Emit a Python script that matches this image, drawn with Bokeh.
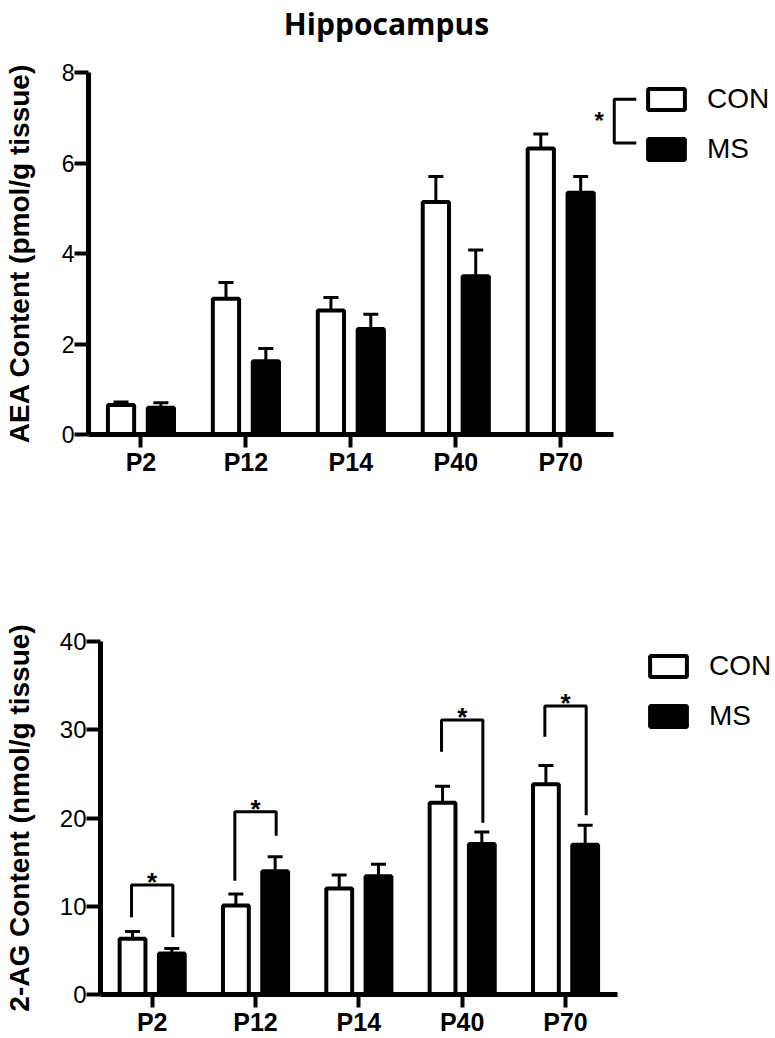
import numpy as np
from bokeh.plotting import figure
from bokeh.models import (Range1d, FixedTicker, Whisker, TeeHead, Legend, LegendItem,
                          ColumnDataSource)
from bokeh.layouts import column
from bokeh.embed import file_html
from bokeh.resources import INLINE
from bokeh.core.properties import value

# ---------------- data ----------------
categories = ["P2", "P12", "P14", "P40", "P70"]

aea_con = [0.65, 3.00, 2.74, 5.14, 6.32]
aea_con_sem = [0.07, 0.36, 0.29, 0.56, 0.32]
aea_ms = [0.59, 1.62, 2.33, 3.50, 5.34]
aea_ms_sem = [0.11, 0.28, 0.33, 0.58, 0.36]
aea_ticks = [0, 2, 4, 6, 8]

ag_con = [6.33, 10.09, 12.01, 21.73, 23.83]
ag_con_sem = [0.82, 1.30, 1.52, 1.86, 2.13]
ag_ms = [4.65, 13.96, 13.40, 17.04, 16.97]
ag_ms_sem = [0.55, 1.64, 1.37, 1.37, 2.20]
ag_ticks = [0, 10, 20, 30, 40]

# significance brackets (2-AG): group, left leg bottom, top, right leg bottom
sig_groups = ["P2", "P12", "P40", "P70"]
sig_left = [8.75, 12.9, 27.5, 29.2]
sig_top = [12.4, 20.7, 31.1, 32.7]
sig_right = [6.5, 18.0, 19.45, 20.3]

# main-effect bracket next to the AEA legend (x in category units, y in data)
main_x = [5.01, 5.22]
main_y = [6.44, 7.41]
main_star = (4.867, 6.95)

TITLE = "Hippocampus"

BAR_OFF = 0.19
BAR_W = 0.25
SIG_OFF = 0.20
FONT = "Liberation Sans"
W = 775


def make_chart(con, con_sem, ms, ms_sem, yticks, ylabel, height, px_cat,
               left, top, bottom, legend_loc, label_standoff, tick_font):
    xend = (W - left) / px_cat
    p = figure(width=W, height=height, output_backend="svg", toolbar_location=None,
               x_range=Range1d(0, xend), y_range=Range1d(yticks[0], yticks[-1]),
               min_border_left=left, min_border_right=0, min_border_top=top,
               min_border_bottom=bottom)
    p.frame_align = False
    p.outline_line_color = None
    p.xgrid.grid_line_color = None
    p.ygrid.grid_line_color = None
    p.background_fill_color = "white"
    p.border_fill_color = "white"

    centers = np.arange(len(categories)) + 0.5
    src = ColumnDataSource(dict(
        xc=centers - BAR_OFF, xm=centers + BAR_OFF,
        con=con, ms=ms,
        con_up=np.array(con) + np.array(con_sem),
        ms_up=np.array(ms) + np.array(ms_sem)))

    for top_col, up_col, xcol in (("con", "con_up", "xc"), ("ms", "ms_up", "xm")):
        w = Whisker(base=xcol, lower=top_col, upper=up_col, source=src,
                    line_width=3, line_color="black", lower_head=None,
                    upper_head=TeeHead(size=15, line_width=3, line_color="black"))
        p.add_layout(w)

    r_con = p.vbar(x="xc", top="con", width=BAR_W, source=src, fill_color="white",
                   line_color="black", line_width=4)
    r_ms = p.vbar(x="xm", top="ms", width=BAR_W, source=src, fill_color="black",
                  line_color="black", line_width=4)

    ax = p.xaxis[0]
    ax.ticker = FixedTicker(ticks=list(centers))
    ax.major_label_overrides = {float(c): cat for c, cat in zip(centers, categories)}
    ax.bounds = (0, len(categories))
    ax.axis_line_width = 5
    ax.major_tick_line_width = 4
    ax.major_tick_out = 13
    ax.major_tick_in = 0
    ax.minor_tick_line_color = None
    ax.major_label_text_font = FONT
    ax.major_label_text_font_style = "bold"
    ax.major_label_text_font_size = "25px"
    ax.major_label_text_color = "black"
    ax.major_label_standoff = 0

    ay = p.yaxis[0]
    ay.ticker = FixedTicker(ticks=yticks)
    ay.axis_line_width = 5
    ay.major_tick_line_width = 4
    ay.major_tick_out = 14
    ay.major_tick_in = 0
    ay.minor_tick_line_color = None
    ay.major_label_text_font = FONT
    ay.major_label_text_font_size = tick_font
    ay.major_label_text_color = "black"
    ay.major_label_standoff = 0
    ay.axis_label = ylabel
    ay.axis_label_text_font = FONT
    ay.axis_label_text_font_style = "bold"
    ay.axis_label_text_font_size = "28px"
    ay.axis_label_text_color = "black"
    ay.axis_label_standoff = label_standoff

    legend = Legend(items=[LegendItem(label="CON", renderers=[r_con]),
                           LegendItem(label="MS", renderers=[r_ms])],
                    location=legend_loc, orientation="vertical",
                    glyph_width=46, glyph_height=26, label_standoff=18,
                    label_text_font=FONT, label_text_font_size="28px",
                    label_text_color="black", spacing=18, padding=0,
                    margin=0, border_line_color=None,
                    background_fill_alpha=0)
    p.add_layout(legend)
    return p, centers


# ---------------- title strip ----------------
TH = 60
tfig = figure(width=W, height=TH, output_backend="svg", toolbar_location=None,
              x_range=Range1d(0, W), y_range=Range1d(0, TH),
              x_axis_type=None, y_axis_type=None, min_border=0)
tfig.frame_align = False
tfig.outline_line_color = None
tfig.xgrid.grid_line_color = None
tfig.ygrid.grid_line_color = None
tfig.text(x=[386], y=[TH - 23], text=[TITLE], text_align="center",
          text_baseline="alphabetic", text_font=value("Open Sans"),
          text_font_style="bold", text_font_size="30px", text_color="black")

# ---------------- AEA ----------------
p1, centers = make_chart(aea_con, aea_con_sem, aea_ms, aea_ms_sem, aea_ticks,
                         "AEA Content (pmol/g tissue)", 498 - TH, 105.4, 85,
                         72 - TH, 64, (555, 269), 24, "23px")

p1.line(x=[main_x[1], main_x[0], main_x[0], main_x[1]],
        y=[main_y[1], main_y[1], main_y[0], main_y[0]],
        line_width=3, line_color="black")
p1.text(x=[main_star[0]], y=[main_star[1]], text=["*"], text_align="center",
        text_baseline="middle", text_font=value(FONT), text_font_style="bold",
        text_font_size="24px", text_color="black")

# ---------------- 2-AG ----------------
p2, _ = make_chart(ag_con, ag_con_sem, ag_ms, ag_ms_sem, ag_ticks,
                   "2-AG Content (nmol/g tissue)", 540, 103.8, 97, 143, 43,
                   (545, 262), 22, "24px")

gidx = np.array([categories.index(g) for g in sig_groups]) + 0.5
xs = [[g - SIG_OFF, g - SIG_OFF, g + SIG_OFF, g + SIG_OFF] for g in gidx]
ys = [[l, t, t, r] for l, t, r in zip(sig_left, sig_top, sig_right)]
p2.multi_line(xs=xs, ys=ys, line_width=3, line_color="black")
p2.text(x=list(gidx), y=sig_top, text=["*"] * len(gidx), text_align="center",
        text_baseline="alphabetic", y_offset=-3, text_font=value(FONT),
        text_font_style="bold", text_font_size="26px", text_color="black")

layout = column(tfig, p1, p2, spacing=0)
open("out.html", "w").write(file_html(layout, INLINE))
